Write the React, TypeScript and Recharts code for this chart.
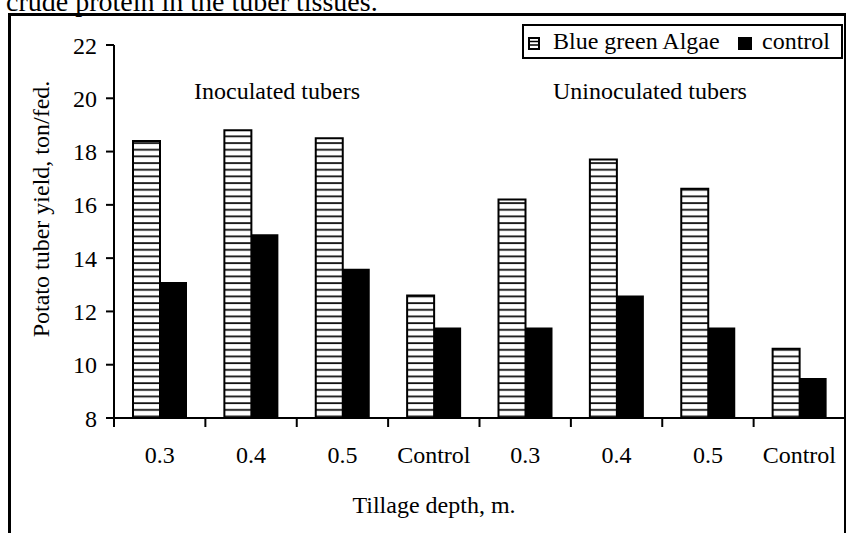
import { BarChart, Bar, XAxis, YAxis, Legend, Customized } from 'recharts'

const categories = ['0.3', '0.4', '0.5', 'Control', '0.3', '0.4', '0.5', 'Control']
const algae = [18.4, 18.8, 18.5, 12.6, 16.2, 17.7, 16.6, 10.6]
const control = [13.1, 14.9, 13.6, 11.4, 11.4, 12.6, 11.4, 9.5]
const yTicks = [8, 10, 12, 14, 16, 18, 20, 22]
const groupLabels = ['Inoculated tubers', 'Uninoculated tubers']
const seriesNames = ['Blue green Algae', 'control']

const data = categories.map((c, i) => ({ idx: i, depth: c, algae: algae[i], control: control[i] }))

const W = 846
const H = 533
const LEFT = 114
const RIGHT = 845
const TOP = 45
const BOTTOM = 418
const BAND = (RIGHT - LEFT) / categories.length
const FONT = '"Liberation Serif", "Times New Roman", serif'

function XTick(props: any) {
  const { x, index, payload } = props
  const left = x - BAND / 2
  return (
    <g>
      <line x1={left} y1={BOTTOM} x2={left} y2={BOTTOM + 9} stroke="#000" strokeWidth={2} />
      {index === categories.length - 1 && (
        <line x1={x + BAND / 2} y1={BOTTOM} x2={x + BAND / 2} y2={BOTTOM + 9} stroke="#000" strokeWidth={2} />
      )}
      <text x={x} y={463} textAnchor="middle" fontSize={24} fontFamily={FONT} fill="#000">
        {categories[payload.value]}
      </text>
    </g>
  )
}

function Annotations() {
  return (
    <g fontFamily={FONT} fontSize={24} fill="#000">
      <text x={277} y={99} textAnchor="middle">{groupLabels[0]}</text>
      <text x={650} y={99} textAnchor="middle">{groupLabels[1]}</text>
    </g>
  )
}

function HatchIcon() {
  return (
    <svg width={12} height={13} style={{ position: 'absolute', left: 4, top: 11 }}>
      <rect x={1} y={1} width={10} height={11} fill="#fff" stroke="#000" strokeWidth={2} />
      <line x1={1} y1={4.5} x2={11} y2={4.5} stroke="#000" strokeWidth={1.5} />
      <line x1={1} y1={8} x2={11} y2={8} stroke="#000" strokeWidth={1.5} />
    </svg>
  )
}

function LegendBox() {
  const txt = { position: 'absolute' as const, top: 0, lineHeight: '31px', whiteSpace: 'nowrap' as const }
  return (
    <div
      style={{
        position: 'relative', boxSizing: 'border-box', width: 321, height: 35, border: '2px solid #000',
        background: '#fff', fontFamily: FONT, fontSize: 24, color: '#000',
      }}
    >
      <HatchIcon />
      <span style={{ ...txt, left: 29 }}>{seriesNames[0]}</span>
      <span style={{ position: 'absolute', left: 214, top: 11, width: 14, height: 13, background: '#000' }} />
      <span style={{ ...txt, left: 238 }}>{seriesNames[1]}</span>
    </div>
  )
}

export default function App() {
  return (
    <div style={{ position: 'absolute', left: 0, top: 0, width: W, height: H, overflow: 'hidden', background: '#fff' }}>
      <div
        style={{
          position: 'absolute', left: 8, top: 13, width: 838, height: 700, boxSizing: 'border-box',
          borderLeft: '3px solid #000', borderTop: '3px solid #000', borderRight: '2px solid #000',
        }}
      />
      <svg width={W} height={20} style={{ position: 'absolute', left: 0, top: 0 }}>
        <text x={6} y={11} fontSize={28} fontFamily={FONT} fill="#000">crude protein in the tuber tissues.</text>
      </svg>
      <div style={{ position: 'absolute', left: 0, top: 0 }}>
        <BarChart
          width={W}
          height={H}
          data={data}
          margin={{ top: TOP, right: W - RIGHT, left: LEFT - 60, bottom: H - BOTTOM - 60 }}
          barSize={27}
          barGap={0}
        >
          <defs>
            <pattern id="hatch" patternUnits="userSpaceOnUse" width={10} height={6.67}>
              <rect width={10} height={6.67} fill="#fff" />
              <line x1={0} y1={3} x2={10} y2={3} stroke="#111" strokeWidth={1.8} />
            </pattern>
          </defs>
          <XAxis
            dataKey="idx"
            type="category"
            height={60}
            axisLine={{ stroke: '#000', strokeWidth: 2 }}
            tickLine={false}
            tickSize={0}
            interval={0}
            tick={<XTick />}
            label={{
              content: () => (
                <text x={434} y={513} textAnchor="middle" fontSize={24} fontFamily={FONT} fill="#000">
                  Tillage depth, m.
                </text>
              ),
            }}
          />
          <YAxis
            width={60}
            domain={[8, 22]}
            ticks={yTicks}
            interval={0}
            axisLine={{ stroke: '#000', strokeWidth: 2 }}
            tickLine={{ stroke: '#000', strokeWidth: 2 }}
            tickSize={8}
            tickMargin={9}
            tick={{ fontSize: 24, fontFamily: FONT, fill: '#000' }}
            label={{
              content: () => (
                <text transform="translate(49,209) rotate(-90)" textAnchor="middle" fontSize={24} fontFamily={FONT} fill="#000">
                  Potato tuber yield, ton/fed.
                </text>
              ),
            }}
          />
          <Legend
            layout="horizontal"
            verticalAlign="middle"
            align="center"
            wrapperStyle={{ left: 522, top: 24, width: 321 }}
            content={() => <LegendBox />}
          />
          <Bar dataKey="algae" name={seriesNames[0]} fill="url(#hatch)" stroke="#000" strokeWidth={2} isAnimationActive={false} />
          <Bar dataKey="control" name={seriesNames[1]} fill="#000" isAnimationActive={false} />
          <Customized component={Annotations} />
        </BarChart>
      </div>
    </div>
  )
}
